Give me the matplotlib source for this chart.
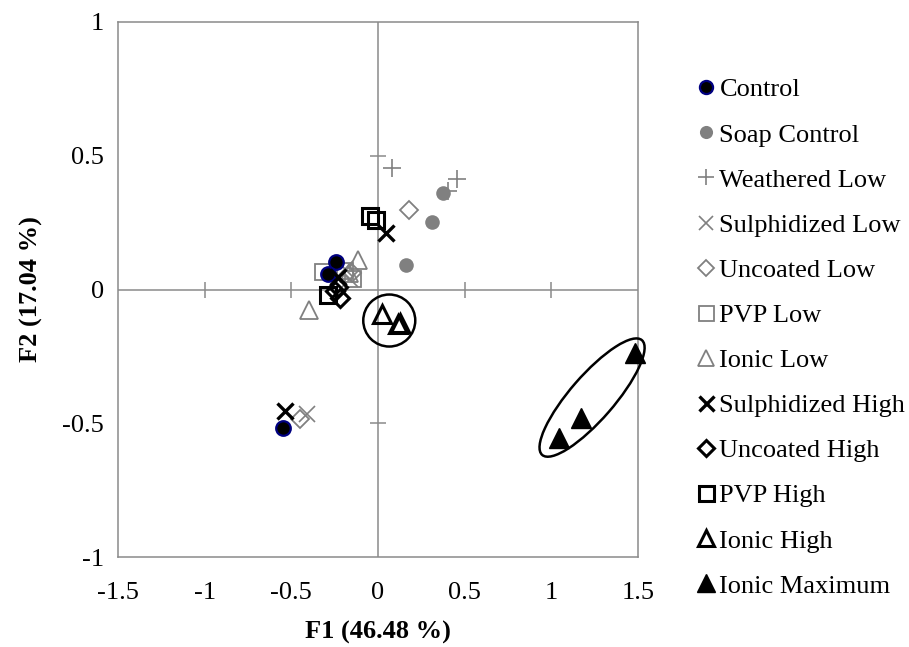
import matplotlib.pyplot as plt
from matplotlib.patches import Ellipse
from matplotlib.transforms import IdentityTransform

plt.rcParams['font.family'] = ['Liberation Serif', 'DejaVu Serif']

GREY = '#808080'
FRAME = '#8a8a8a'

# PCA scores (F1, F2) per treatment
ctrl_x = [-0.24, -0.29, -0.546]
ctrl_y = [0.102, 0.059, -0.517]
soap_x = [0.373, 0.31, 0.16]
soap_y = [0.359, 0.253, 0.093]
weath_lo_x = [0.079, 0.454, 0.406]
weath_lo_y = [0.455, 0.414, 0.367]
sulph_lo_x = [-0.411, -0.19, -0.16]
sulph_lo_y = [-0.467, 0.075, 0.04]
unc_lo_x = [0.179, -0.45, -0.15]
unc_lo_y = [0.299, -0.485, 0.06]
pvp_lo_x = [-0.315, -0.146, -0.19]
pvp_lo_y = [0.066, 0.04, 0.07]
ion_lo_x = [-0.113, -0.396, -0.17]
ion_lo_y = [0.112, -0.075, 0.06]
sulph_hi_x = [0.046, -0.537, -0.229]
sulph_hi_y = [0.212, -0.455, 0.047]
unc_hi_x = [-0.219, -0.25, -0.23]
unc_hi_y = [-0.031, -0.005, 0.01]
pvp_hi_x = [-0.046, -0.012, -0.286]
pvp_hi_y = [0.274, 0.259, -0.019]
ion_hi_x = [0.021, 0.127, 0.115]
ion_hi_y = [-0.093, -0.124, -0.13]
ion_max_x = [1.483, 1.171, 1.044]
ion_max_y = [-0.237, -0.48, -0.554]

labels = ['Control', 'Soap Control', 'Weathered Low', 'Sulphidized Low',
          'Uncoated Low', 'PVP Low', 'Ionic Low', 'Sulphidized High',
          'Uncoated High', 'PVP High', 'Ionic High', 'Ionic Maximum']
xs = [ctrl_x, soap_x, weath_lo_x, sulph_lo_x, unc_lo_x, pvp_lo_x, ion_lo_x,
      sulph_hi_x, unc_hi_x, pvp_hi_x, ion_hi_x, ion_max_x]
ys = [ctrl_y, soap_y, weath_lo_y, sulph_lo_y, unc_lo_y, pvp_lo_y, ion_lo_y,
      sulph_hi_y, unc_hi_y, pvp_hi_y, ion_hi_y, ion_max_y]

# marker styles (sizes in points at 100 dpi)
styles = [
    dict(marker='o', ms=10.5, mfc='black', mec='#000080', mew=1.6, zorder=5),
    dict(marker='o', ms=10.5, mfc=GREY, mec=GREY, mew=0, zorder=4),
    dict(marker='+', ms=13, mec=GREY, mew=1.2, zorder=3),
    dict(marker='x', ms=11, mec=GREY, mew=1.2, zorder=3),
    dict(marker='D', ms=9, mfc='none', mec=GREY, mew=1.3, zorder=3),
    dict(marker='s', ms=12, mfc='none', mec=GREY, mew=1.3, zorder=3),
    dict(marker='^', ms=13, mfc='none', mec=GREY, mew=1.3, zorder=3),
    dict(marker='x', ms=12, mec='black', mew=2.4, zorder=6),
    dict(marker='D', ms=9, mfc='none', mec='black', mew=2.2, zorder=6),
    dict(marker='s', ms=12, mfc='none', mec='black', mew=2.2, zorder=6),
    dict(marker='^', ms=13, mfc='none', mec='black', mew=2.2, zorder=6),
    dict(marker='^', ms=14, mfc='black', mec='black', mew=1, zorder=6),
]

fig = plt.figure(figsize=(9.09, 6.47), dpi=100)
ax = fig.add_axes([118 / 909, 90 / 647, 520 / 909, 535 / 647])
ax.set_xlim(-1.5, 1.5)
ax.set_ylim(-1, 1)

for sp in ax.spines.values():
    sp.set_color(FRAME)
    sp.set_linewidth(1.1)
ax.set_xticks([-1.5, -1, -0.5, 0, 0.5, 1, 1.5])
ax.set_xticklabels(['-1.5', '-1', '-0.5', '0', '0.5', '1', '1.5'])
ax.set_yticks([-1, -0.5, 0, 0.5, 1])
ax.set_yticklabels(['-1', '-0.5', '0', '0.5', '1'])
ax.tick_params(length=0, labelsize=19)
ax.tick_params(axis='x', pad=18)
ax.tick_params(axis='y', pad=10)

# axes through the origin with crossing ticks
ax.axhline(0, color=FRAME, lw=1.1, zorder=1)
ax.axvline(0, color=FRAME, lw=1.1, zorder=1)
ax.plot([-1, -0.5, 0.5, 1], [0, 0, 0, 0], ls='none', marker='|', ms=12,
        mec=FRAME, mew=1.1, zorder=1)
ax.plot([0, 0], [-0.5, 0.5], ls='none', marker='_', ms=12,
        mec=FRAME, mew=1.1, zorder=1)

handles = []
for x, y, lab, st in zip(xs, ys, labels, styles):
    h, = ax.plot(x, y, ls='none', label=lab, clip_on=False, **st)
    handles.append(h)

ax.set_xlabel('F1 (46.48 %)', fontsize=19, fontweight='bold', labelpad=12)
ax.set_ylabel('F2 (17.04 %)', fontsize=19, fontweight='bold', labelpad=14)

# group outlines drawn in pixel space
fig.canvas.draw()
cx, cy = ax.transData.transform((0.065, -0.116))
ax.add_patch(Ellipse((cx, cy), 52, 52, fill=False, ec='black', lw=1.8,
                     transform=IdentityTransform(), zorder=7, clip_on=False))
ex, ey = ax.transData.transform((1.235, -0.404))
ax.add_patch(Ellipse((ex, ey), 152, 44, angle=49, fill=False, ec='black',
                     lw=1.8, transform=IdentityTransform(), zorder=7,
                     clip_on=False))

ax.legend(handles=handles, loc='upper left', bbox_to_anchor=(697 / 909, 1 - 78 / 647),
          bbox_transform=fig.transFigure, frameon=False, fontsize=19,
          markerscale=0.9, handlelength=0.7, handletextpad=0.15,
          labelspacing=0.82, borderpad=0, borderaxespad=0)

fig.savefig('out.png', dpi=100)
